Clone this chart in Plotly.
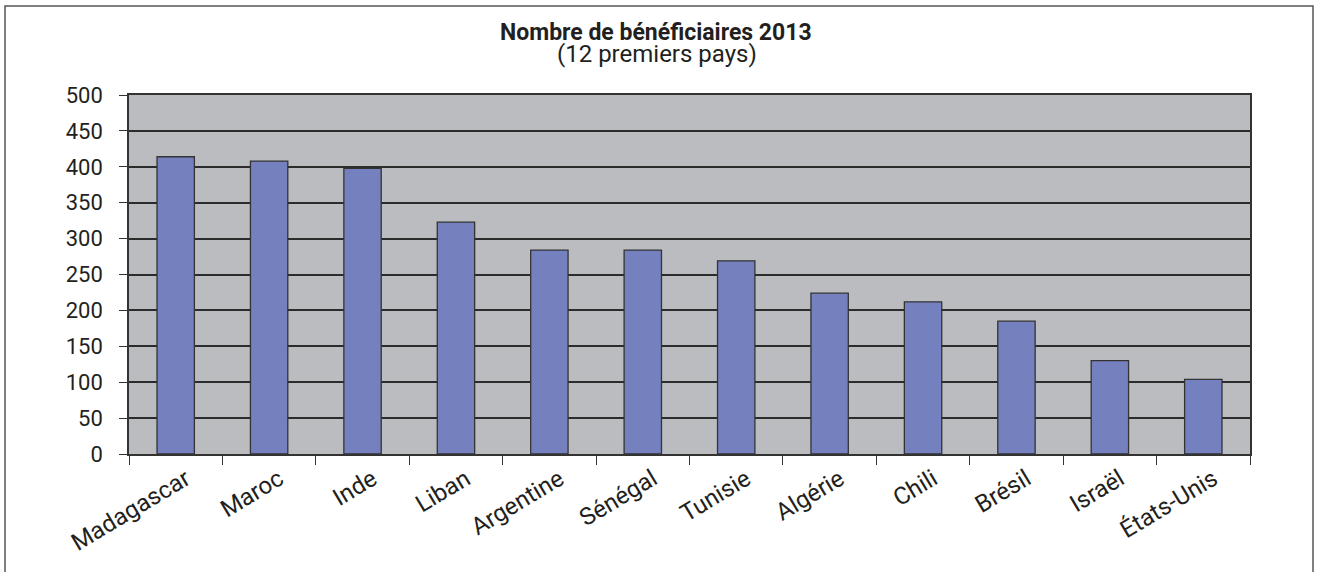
import plotly.graph_objects as go

pays = ["Madagascar", "Maroc", "Inde", "Liban", "Argentine", "Sénégal",
        "Tunisie", "Algérie", "Chili", "Brésil", "Israël", "États-Unis"]
beneficiaires = [414, 408, 398, 323, 284, 284, 269, 224, 212, 185, 130, 104]

titre = "Nombre de bénéficiaires 2013"
sous_titre = "(12 premiers pays)"

font = "Roboto, Arial, sans-serif"
ink = "#231f20"

fig = go.Figure(go.Bar(
    x=pays, y=beneficiaires,
    marker=dict(color="#7580bf", line=dict(color="#333333", width=1.3)),
))

fig.update_layout(
    width=1321, height=572,
    margin=dict(l=129, r=71, t=95, b=118),
    paper_bgcolor="white", plot_bgcolor="#bbbcc0",
    bargap=0.6, showlegend=False,
    font=dict(family=font, size=20, color=ink),
)

fig.update_xaxes(
    tickangle=-31, tickson="boundaries", ticks="outside", ticklen=9,
    tickcolor="#333333", tickwidth=1.3,
    showline=True, linecolor="#333333", linewidth=1.5, mirror=True,
    showgrid=False, tickfont=dict(size=24), ticklabelshift=10,
)
fig.update_yaxes(
    range=[0, 500], dtick=50, ticks="outside", ticklen=8,
    tickcolor="#333333", tickwidth=1.3,
    showline=True, linecolor="#333333", linewidth=1.5, mirror=True,
    gridcolor="#2b2b2b", gridwidth=1.5, zeroline=False,
    ticklabelstandoff=12, tickfont=dict(size=22),
)

# titre centré sur la page
fig.add_annotation(text="<b>" + titre + "</b>", xref="paper", yref="paper",
                   x=(656 - 129) / 1121, y=1 + (95 - 33) / 359, showarrow=False,
                   font=dict(size=23, color=ink), yanchor="middle")
fig.add_annotation(text=sous_titre, xref="paper", yref="paper",
                   x=(657 - 129) / 1121, y=1 + (95 - 54) / 359, showarrow=False,
                   font=dict(size=24, color=ink), yanchor="middle")

# cadre autour du graphique
fig.add_shape(type="rect", xref="paper", yref="paper",
              x0=(5 - 129) / 1121, x1=(1313 - 129) / 1121,
              y0=-(600 - 454) / 359, y1=1 + (95 - 6) / 359,
              line=dict(color="#555555", width=1.5), layer="below")

fig.write_html("out.html", config={"displayModeBar": False},
               post_script="document.body.style.margin='0';")
